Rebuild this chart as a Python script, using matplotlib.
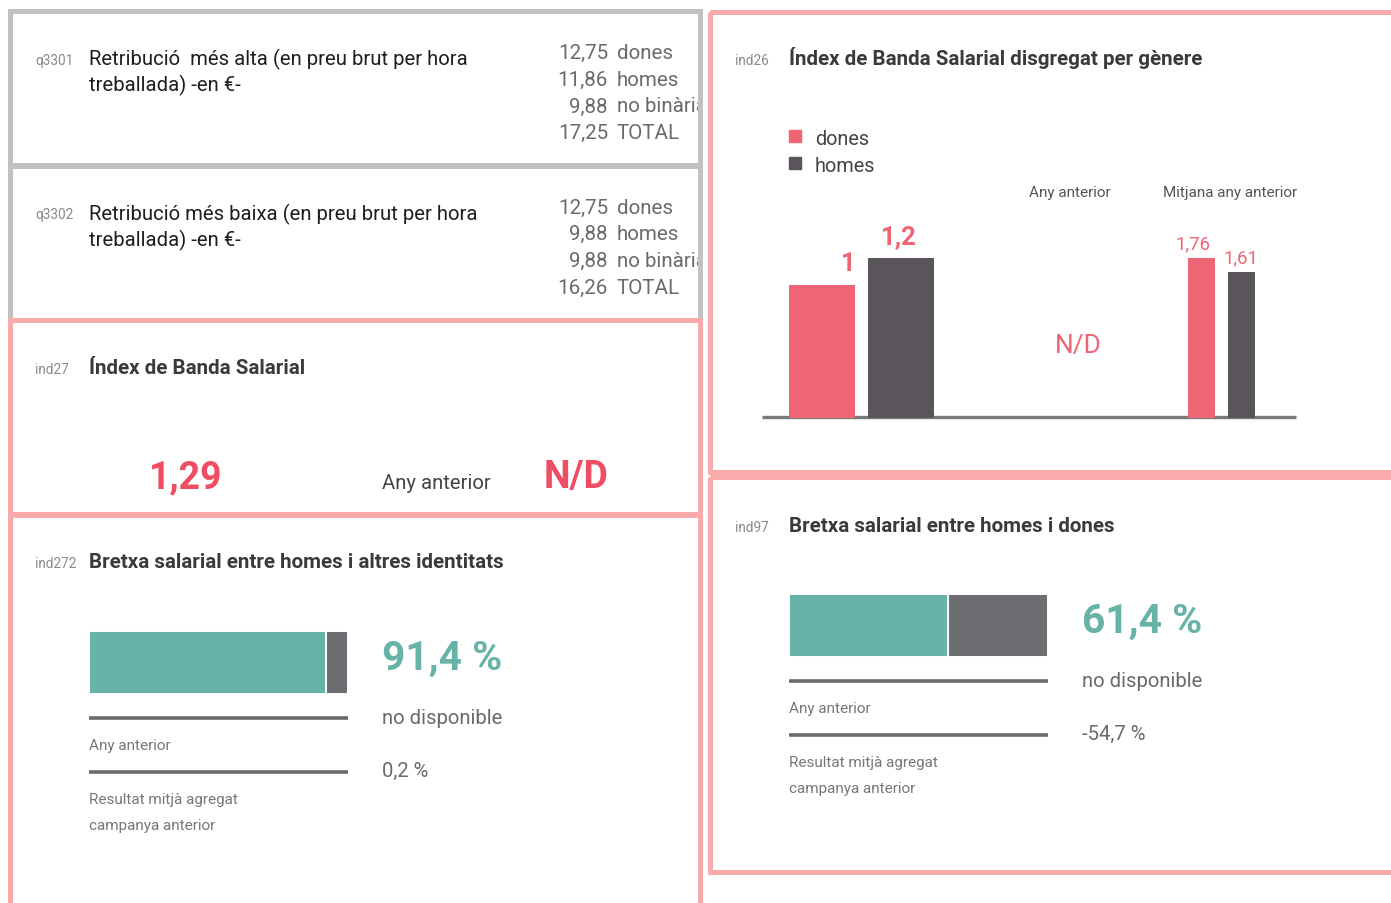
import matplotlib
matplotlib.use('Agg')
import matplotlib.pyplot as plt
from matplotlib.patches import Rectangle
from matplotlib.transforms import Bbox

# ---------------- data ----------------
ret_labels = ['dones', 'homes', 'no binària', 'TOTAL']
q3301_values = [12.75, 11.86, 9.88, 17.25]
q3302_values = [12.75, 9.88, 9.88, 16.26]
ind27_value = 1.29
ind27_prev = 'N/D'
ind26_series = ['dones', 'homes']
ind26_current = [1.0, 1.2]
ind26_prev_avg = [1.76, 1.61]
ind26_prev = 'N/D'
ind272_value = 91.4
ind272_prev = 'no disponible'
ind272_avg = 0.2
ind97_value = 61.4
ind97_prev = 'no disponible'
ind97_avg = -54.7

# ---------------- style ----------------
FONT = ['Roboto', 'DejaVu Sans']
plt.rcParams['font.family'] = FONT
PINK = '#f9abab'
GREYB = '#c2c2c2'
RED = '#ee4d64'
RED2 = '#ef6575'
DARKBAR = '#59555b'
TEAL = '#67b3a7'
GREYBAR = '#6d6e71'

S_ID = 9.8
S_BODY = 14.6
S_VAL = 14.8
S_TITLE = 14.8
S_BIG = 27
S_MID = 14.6
S_SMALL = 11

def fmt(v, d=2):
    return f'{v:.{d}f}'.replace('.', ',')

W, H = 1391, 904
fig = plt.figure(figsize=(W / 100, H / 100), dpi=100)
base = fig.add_axes([0, 0, 1, 1])
base.set_xlim(0, W)
base.set_ylim(H, 0)
base.axis('off')

def T(x, y, s, size, color, weight='normal', ha='left', va='baseline', **kw):
    return base.text(x, y, s, fontsize=size, color=color, fontweight=weight,
                     ha=ha, va=va, **kw)

def box(x0, y0, x1, y1, color, lw=5):
    base.add_patch(Rectangle((x0, y0), x1 - x0, y1 - y0, fill=False,
                             edgecolor=color, linewidth=lw * 0.72, zorder=5))

def px_axes(x0, y0, x1, y1):
    return fig.add_axes([x0 / W, 1 - y1 / H, (x1 - x0) / W, (y1 - y0) / H])

# ---------------- borders ----------------
box(9.5, 12, 700, 165.5, GREYB)
box(9.5, 166.5, 700, 321, GREYB)
box(9.5, 320.5, 700, 514.5, PINK)
box(9.5, 515.5, 700, 930, PINK)
box(709.5, 12.5, 1420, 472.5, PINK)
box(709.5, 477.5, 1420, 872.5, PINK)

# ---------------- q3301 / q3302 ----------------
clipbox = Bbox.from_extents(0, 0, 698, H)   # display pixels
for yb, qid, line1, vals in [(0, 'q3301', 'Retribució  més alta (en preu brut per hora', q3301_values),
                             (154.5, 'q3302', 'Retribució més baixa (en preu brut per hora', q3302_values)]:
    T(35, 65 + yb, qid, S_ID, '#8a8a8a')
    T(89, 65.5 + yb, line1, S_BODY, '#1e1e1e')
    T(89, 91.5 + yb, 'treballada) -en €-', S_BODY, '#1e1e1e')
    for i, (v, lab) in enumerate(zip(vals, ret_labels)):
        yy = 59 + yb + i * 26.7
        T(608, yy, fmt(v), S_VAL, '#6a6a6a', ha='right')
        t = T(617, yy, lab, S_VAL, '#6a6a6a')
        t.set_clip_box(clipbox)
        t.set_clip_on(True)

# ---------------- ind27 ----------------
T(35, 374, 'ind27', S_ID, '#8a8a8a')
T(89, 374.5, 'Índex de Banda Salarial', S_TITLE, '#3a3a3a', weight='bold')
T(186, 488, fmt(ind27_value), S_BIG, RED, weight='bold', ha='center')
T(382, 489, 'Any anterior', S_MID, '#444444')
T(576, 488, ind27_prev, S_BIG, RED, weight='bold', ha='center')

# ---------------- stacked gap bars ----------------
def gap_block(x0, yt, idx, title, value, prev, avg, title_y):
    T(35 if x0 < 700 else 735, title_y, idx, S_ID, '#8a8a8a')
    T(x0, title_y, title, S_TITLE, '#3a3a3a', weight='bold')
    ax = px_axes(x0, yt, x0 + 259, yt + 63)
    ax.barh([0], [value], left=[0], height=1, color=TEAL, edgecolor='white', linewidth=1.4)
    ax.barh([0], [100 - value], left=[value], height=1, color=GREYBAR, edgecolor='white', linewidth=1.4)
    ax.set_xlim(0, 100)
    ax.set_ylim(-0.5, 0.5)
    ax.axis('off')
    T(x0 + 293, yt + 38, fmt(value, 1) + ' %', 29.3, TEAL, weight='bold')
    base.plot([x0, x0 + 259], [yt + 87, yt + 87], color='#6b6b6b', lw=2.6, solid_capstyle='butt')
    T(x0 + 293, yt + 92, prev, S_MID, '#6a6a6a')
    T(x0, yt + 118, 'Any anterior', S_SMALL, '#777777')
    base.plot([x0, x0 + 259], [yt + 141, yt + 141], color='#6b6b6b', lw=2.6, solid_capstyle='butt')
    T(x0 + 293, yt + 145, fmt(avg, 1) + ' %', S_MID, '#6a6a6a')
    T(x0, yt + 172, 'Resultat mitjà agregat', S_SMALL, '#777777')
    T(x0, yt + 198, 'campanya anterior', S_SMALL, '#777777')

gap_block(89, 632, 'ind272', 'Bretxa salarial entre homes i altres identitats',
          ind272_value, ind272_prev, ind272_avg, 568.5)
gap_block(789, 595, 'ind97', 'Bretxa salarial entre homes i dones',
          ind97_value, ind97_prev, ind97_avg, 532)

# ---------------- ind26 ----------------
T(735, 65, 'ind26', S_ID, '#8a8a8a')
T(789, 65, 'Índex de Banda Salarial disgregat per gènere', S_TITLE, '#3a3a3a', weight='bold')
for i, (lab, c) in enumerate(zip(ind26_series, [RED2, DARKBAR])):
    base.add_patch(Rectangle((789, 131 + 26.5 * i), 12, 12, color=c))
    T(815, 145 + 26.5 * i, lab, 14.3, '#444444')
T(1070, 197, 'Any anterior', S_SMALL, '#555555', ha='center')
T(1230, 197, 'Mitjana any anterior', S_SMALL, '#555555', ha='center')
T(1078, 353, ind26_prev, 19, RED2, ha='center')

base.plot([762, 1296], [417.5, 417.5], color='#7a7a7a', lw=2.4, solid_capstyle='butt', zorder=1)

FRAC = 160 / 190.0
# current year group
axl = px_axes(762, 229, 1000, 419)
xs = [0, 1]
axl.bar(xs, ind26_current, width=0.83, color=[RED2, DARKBAR])
axl.set_xlim(-0.755, 2.24)
axl.set_ylim(0, max(ind26_current) / FRAC)
axl.axis('off')
lab0 = fmt(ind26_current[0], 0) if ind26_current[0] == int(ind26_current[0]) else fmt(ind26_current[0], 1)
axl.annotate(lab0, (0.33, ind26_current[0]), xytext=(0, 7), textcoords='offset points',
             ha='center', va='bottom', fontsize=18.5, color=RED2, fontweight='bold')
axl.annotate(fmt(ind26_current[1], 1), (1, ind26_current[1]), xytext=(-2, 7), textcoords='offset points',
             ha='center', va='bottom', fontsize=18.5, color=RED2, fontweight='bold')

# previous-year average group
axr = px_axes(1000, 229, 1296, 419)
axr.bar(xs, ind26_prev_avg, width=0.675, color=[RED2, DARKBAR])
axr.set_xlim(-5.04, 2.36)
axr.set_ylim(0, max(ind26_prev_avg) / FRAC)
axr.axis('off')
for x, v, dx in zip(xs, ind26_prev_avg, [-9, -1]):
    axr.annotate(fmt(v), (x, v), xytext=(dx * 0.72, 4), textcoords='offset points',
                 ha='center', va='bottom', fontsize=13.4, color=RED2)

fig.savefig('out.png', dpi=100, facecolor='white')
